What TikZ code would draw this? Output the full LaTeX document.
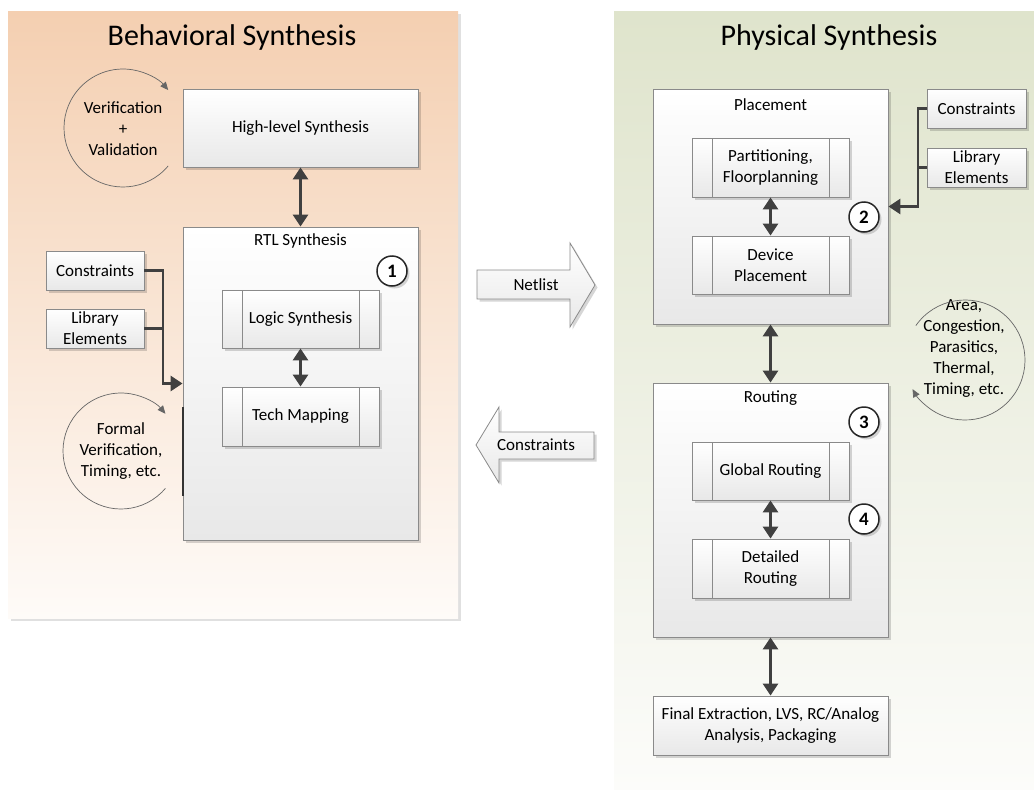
\documentclass[tikz,border=0pt]{standalone}
\usepackage{fontspec}
\setmainfont{Carlito}
\usetikzlibrary{arrows.meta,shadows,calc}

\definecolor{peach}{RGB}{244,207,177}
\definecolor{peachlow}{RGB}{254,251,248}
\definecolor{sage}{RGB}{223,228,204}
\definecolor{sagelow}{RGB}{252,252,250}
\definecolor{rim}{RGB}{138,138,138}
\definecolor{ink}{RGB}{64,64,64}
\definecolor{boxlow}{RGB}{232,232,232}

\tikzset{
  lbl/.style={font=\fontsize{17}{21}\selectfont, align=center, inner sep=0pt},
  title/.style={font=\fontsize{30}{36}\selectfont, inner sep=0pt},
  softshadow/.style={drop shadow={shadow xshift=2.5pt, shadow yshift=-2.5pt, fill=black, opacity=0.16}},
  block/.style={lbl, draw=rim, line width=0.8pt, top color=white, bottom color=boxlow, softshadow},
  stage/.style={block, minimum width=235pt},
  smallbox/.style={block, minimum width=98pt, minimum height=39pt},
  subproc/.style={block, minimum width=157pt, minimum height=58pt,
    path picture={
      \draw[rim, line width=0.8pt]
        ([xshift=20pt]path picture bounding box.north west) -- ([xshift=20pt]path picture bounding box.south west)
        ([xshift=-20pt]path picture bounding box.north east) -- ([xshift=-20pt]path picture bounding box.south east);
    }},
  num/.style={circle, draw=black!85, line width=1.5pt, fill=white, minimum size=30pt, inner sep=0pt,
    font=\bfseries\fontsize{19}{19}\selectfont, softshadow},
  link/.style={draw=ink, line width=2.8pt, >={Triangle[width=15pt,length=12pt]}},
  loopline/.style={draw=black!60, line width=0.7pt, -{Triangle[width=7pt,length=8pt]}},
  bigarrow/.style={draw=rim, line width=0.8pt, top color=white, bottom color=boxlow, softshadow},
}

\begin{document}
\begin{tikzpicture}[x=1pt, y=-1pt]
\useasboundingbox (0,0) rectangle (1034,790);

% two panels
\fill[top color=peach, bottom color=peachlow,
      drop shadow={shadow xshift=3pt, shadow yshift=-3pt, fill=black, opacity=0.12}]
  (8,11) rectangle (458,618);
\fill[top color=sage, bottom color=sagelow] (614,11) rectangle (1034,790);

\node[title] (bt) at (232,38) {Behavioral Synthesis};
\node[title] (pt) at (829,38) {Physical Synthesis};

% ---------- behavioral side ----------
\node[stage, minimum height=78pt] (hls) at (300.5,128) {High-level Synthesis};
\node[stage, minimum height=313pt] (rtl) at (300.5,383.5) {};
\node[lbl] (rtlt) at (300.5,241) {RTL Synthesis};
\node[subproc] (logic) at (300.5,319) {Logic Synthesis};
\node[subproc, minimum height=59pt] (tech) at (300.5,416.5) {Tech Mapping};
\node[num] (n1) at (392,271) {1};

\node[smallbox] (lcons) at (95,270.5) {Constraints};
\node[smallbox] (llib) at (95,328.5) {Library\\Elements};

\coordinate (vc) at (123,128);
\node[lbl] (verif) at (123,129) {Verification\\+\\Validation};
\draw[loopline] ($(vc)+(40:59)$) arc[start angle=40, end angle=320, radius=59];

\coordinate (fc) at (121,451);
\node[lbl] (formal) at (121,451) {Formal\\Verification,\\Timing, etc.};
\draw[loopline] ($(fc)+(40:58)$) arc[start angle=40, end angle=320, radius=58];

% dark bar on the left edge of the RTL block
\draw[draw=black!80, line width=2.5pt] (183,407) -- (183,496);

\draw[link,<->] (hls) -- (rtl);
\draw[link,<->] (logic) -- (tech);
\coordinate (lbend) at (163,383.5);
\draw[link,->] (lcons.east) -| (lbend) -- (rtl.west);
\draw[link] (llib.east) -- (llib.east -| lbend);

% ---------- hand-over arrows ----------
\draw[bigarrow] (477,270) -- (570,270) -- (570,243) -- (595,285) -- (570,327) -- (570,299) -- (477,299) -- cycle;
\node[lbl] (netlist) at (536,285) {Netlist};
\draw[bigarrow] (594,432) -- (499,432) -- (499,407) -- (476,445) -- (499,483) -- (499,459) -- (594,459) -- cycle;
\node[lbl] (backcons) at (536,445) {Constraints};

% ---------- physical side ----------
\node[stage, minimum height=235pt] (place) at (770.5,206.5) {};
\node[lbl] (placet) at (770.5,105) {Placement};
\node[subproc, minimum height=59pt] (part) at (770.5,167.5) {Partitioning,\\Floorplanning};
\node[subproc] (devp) at (770.5,265) {Device\\Placement};
\node[num] (n2) at (864,217) {2};

\node[smallbox, minimum width=99pt] (rcons) at (976.5,108.5) {Constraints};
\node[smallbox, minimum width=99pt] (rlib) at (976.5,167.5) {Library\\Elements};
\coordinate (rbend) at (918,206.5);
\draw[link,->] (rcons.west) -| (rbend) -- (place.east);
\draw[link] (rlib.west) -- (rlib.west -| rbend);
\draw[link,<->] (part) -- (devp);

\node[stage, minimum height=254pt] (route) at (770.5,510) {};
\node[lbl] (routet) at (770.5,398) {Routing};
\node[subproc] (glob) at (770.5,471) {Global Routing};
\node[subproc, minimum height=59pt] (det) at (770.5,568.5) {Detailed\\Routing};
\node[num] (n3) at (864,422) {3};
\node[num] (n4) at (864,519) {4};
\draw[link,<->] (glob) -- (det);
\draw[link,<->] (place) -- (route);

\node[stage, minimum height=59pt] (final) at (770.5,725.5) {Final Extraction, LVS, RC/Analog\\Analysis, Packaging};
\draw[link,<->] (route) -- (final);

\coordinate (ac) at (965,360);
\node[lbl] (area) at (964,349) {Area,\\Congestion,\\Parasitics,\\Thermal,\\Timing, etc.};
\draw[loopline] ($(ac)+(215:60)$) arc[start angle=215, end angle=511, radius=60];
\end{tikzpicture}
\end{document}
